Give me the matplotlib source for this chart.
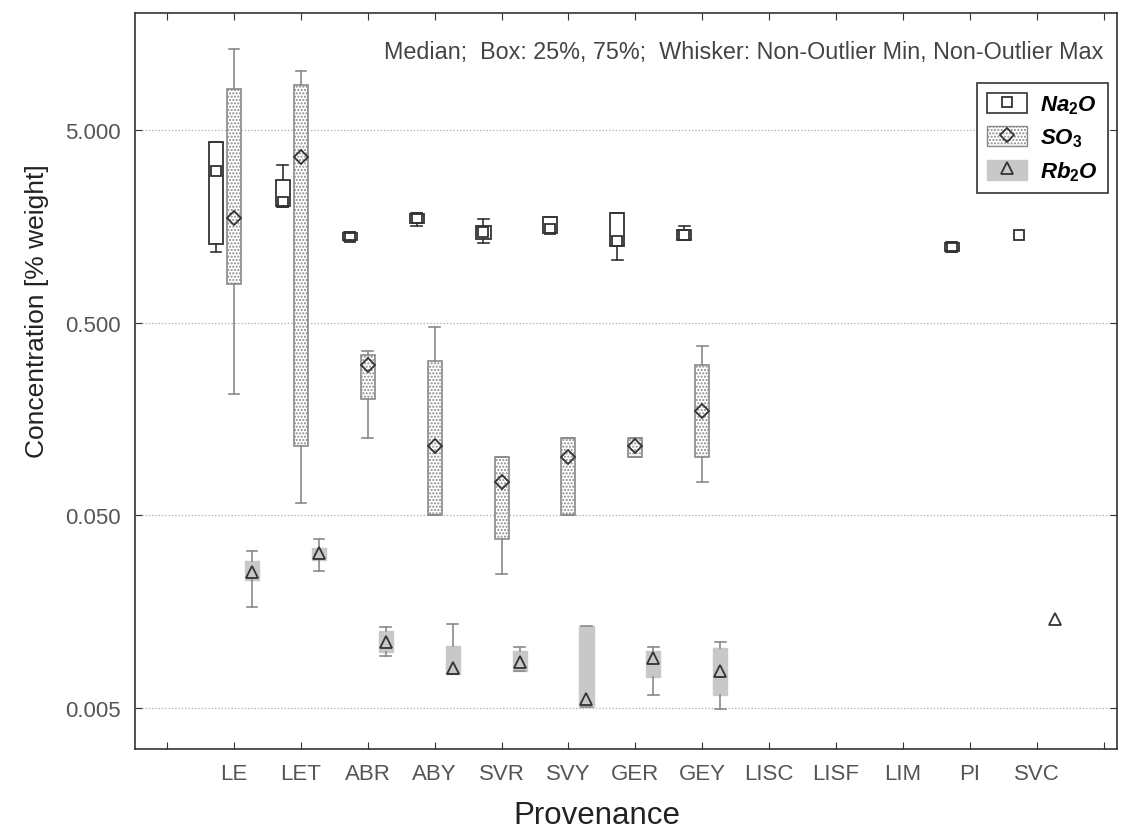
import numpy as np
import matplotlib.pyplot as plt
from matplotlib.patches import Patch
from matplotlib.lines import Line2D

plt.rcParams['font.family'] = ['Liberation Sans', 'DejaVu Sans']
plt.rcParams['mathtext.fontset'] = 'custom'
plt.rcParams['mathtext.it'] = 'Liberation Sans:italic:bold'
plt.rcParams['mathtext.rm'] = 'Liberation Sans:bold'

nan = np.nan

# categories
provenance = ['LE', 'LET', 'ABR', 'ABY', 'SVR', 'SVY', 'GER', 'GEY',
              'LISC', 'LISF', 'LIM', 'PI', 'SVC']

# Na2O: median, box 25/75 %, whiskers (non-outlier min / max)
na_med = [3.05, 2.10, 1.39, 1.735, 1.47, 1.53, 1.32, 1.42, nan, nan, nan, 1.24, 1.43]
na_q1 = [1.28, 2.02, 1.34, 1.65, 1.355, 1.46, 1.25, 1.34, nan, nan, nan, 1.17, 1.43]
na_q3 = [4.31, 2.76, 1.46, 1.82, 1.59, 1.77, 1.86, 1.51, nan, nan, nan, 1.30, 1.43]
na_lo = [1.165, 2.0, 1.33, 1.59, 1.29, 1.46, 1.06, 1.34, nan, nan, nan, 1.16, 1.43]
na_hi = [4.31, 3.27, 1.47, 1.86, 1.72, 1.77, 1.86, 1.58, nan, nan, nan, 1.31, 1.43]

# SO3
so_med = [1.755, 3.61, 0.303, 0.114, 0.0749, 0.1006, 0.114, 0.1746, nan, nan, nan, nan, nan]
so_q1 = [0.794, 0.115, 0.2015, 0.0505, 0.0378, 0.0505, 0.1006, 0.1006, nan, nan, nan, nan, nan]
so_q3 = [8.12, 8.55, 0.341, 0.315, 0.1006, 0.126, 0.126, 0.3024, nan, nan, nan, nan, nan]
so_lo = [0.214, 0.058, 0.126, 0.0505, 0.02495, 0.0505, 0.1006, 0.0749, nan, nan, nan, nan, nan]
so_hi = [13.1, 10.15, 0.355, 0.473, 0.1006, 0.126, 0.126, 0.378, nan, nan, nan, nan, nan]

# Rb2O
rb_med = [0.0254, 0.0319, 0.01097, 0.00804, 0.00864, 0.00557, 0.00906, 0.0078, nan, nan, nan, nan, 0.0145]
rb_q1 = [0.0232, 0.0295, 0.00974, 0.0075, 0.0078, 0.00504, 0.00727, 0.00584, nan, nan, nan, nan, 0.0145]
rb_q3 = [0.0291, 0.0338, 0.0126, 0.01054, 0.00985, 0.01338, 0.00993, 0.0102, nan, nan, nan, nan, 0.0145]
rb_lo = [0.01675, 0.0258, 0.00935, 0.0075, 0.0078, 0.00504, 0.00586, 0.00494, nan, nan, nan, nan, 0.0145]
rb_hi = [0.0328, 0.0378, 0.0131, 0.01365, 0.01033, 0.01338, 0.01033, 0.01105, nan, nan, nan, nan, 0.0145]

dark = '#333333'
grey = '#8a8a8a'
fill = '#c8c8c8'

fig = plt.figure(figsize=(11.21, 8.37), dpi=100)
ax = fig.add_axes([0.1204, 0.104, 0.876, 0.8793])

x = np.arange(1, len(provenance) + 1)


def draw_series(pos, med, q1, q3, lo, hi, boxprops, linecolor, marker, ms):
    stats, where = [], []
    for p, m, a, b, l, h in zip(pos, med, q1, q3, lo, hi):
        if np.isnan(m) or (a == b and l == h):
            continue
        stats.append(dict(med=m, q1=a, q3=b, whislo=l, whishi=h))
        where.append(p)
    ax.bxp(stats, positions=where, widths=0.21, capwidths=0.16,
           patch_artist=True, showfliers=False, boxprops=boxprops,
           whiskerprops=dict(color=linecolor, linewidth=1.2),
           capprops=dict(color=linecolor, linewidth=1.2),
           medianprops=dict(visible=False), manage_ticks=False, zorder=3)
    ax.plot(pos, med, linestyle='none', marker=marker, ms=ms, mfc='none',
            mec=dark, mew=1.3, zorder=5)


draw_series(x - 0.27, na_med, na_q1, na_q3, na_lo, na_hi,
            dict(facecolor='white', edgecolor=dark, linewidth=1.3), dark, 's', 6.5)
draw_series(x, so_med, so_q1, so_q3, so_lo, so_hi,
            dict(facecolor='white', edgecolor=grey, hatch='.....', linewidth=1.2), grey, 'D', 7.5)
draw_series(x + 0.27, rb_med, rb_q1, rb_q3, rb_lo, rb_hi,
            dict(facecolor=fill, edgecolor=fill, linewidth=1.0), grey, '^', 8)

ax.set_yscale('log')
ax.set_ylim(0.00307, 20.2)
ax.set_xlim(-0.48, 14.2)
ax.set_yticks([0.005, 0.05, 0.5, 5])
ax.set_yticklabels(['0.005', '0.050', '0.500', '5.000'])
ax.yaxis.set_minor_locator(plt.NullLocator())
ax.set_xticks(np.arange(0, 15))
ax.set_xticklabels([''] + provenance + [''])
ax.tick_params(direction='in', length=5, top=True, right=True,
               labelsize=16, labelcolor='#555555', color=dark, pad=10)
ax.grid(axis='y', which='major', linestyle=':', color='#aaaaaa', linewidth=0.9)
for s in ax.spines.values():
    s.set_color(dark)
    s.set_linewidth(1.2)

ax.set_ylabel('Concentration [% weight]', fontsize=19, color='#222222')
ax.yaxis.set_label_coords(-0.088, 0.596)
ax.set_xlabel('Provenance', fontsize=22.5, color='#222222')
ax.xaxis.set_label_coords(0.47, -0.07)

ax.text(0.986, 0.948, 'Median;  Box: 25%, 75%;  Whisker: Non-Outlier Min, Non-Outlier Max',
        transform=ax.transAxes, ha='right', va='center', fontsize=16.8, color='#444444')

handles = [
    (Patch(facecolor='white', edgecolor=dark, linewidth=1.2),
     Line2D([], [], ls='none', marker='s', ms=6.5, mfc='none', mec=dark, mew=1.3)),
    (Patch(facecolor='white', edgecolor=grey, hatch='.....', linewidth=1.0),
     Line2D([], [], ls='none', marker='D', ms=7.5, mfc='none', mec=dark, mew=1.3)),
    (Patch(facecolor=fill, edgecolor=fill),
     Line2D([], [], ls='none', marker='^', ms=8, mfc='none', mec=dark, mew=1.3)),
]
labels = [r'$\mathit{Na_2O}$', r'$\mathit{SO_3}$', r'$\mathit{Rb_2O}$']
leg = ax.legend(handles, labels, loc='upper right', bbox_to_anchor=(0.991, 0.905),
                borderaxespad=0, fontsize=16, handlelength=1.8, handleheight=1.0,
                handletextpad=0.6, borderpad=0.45,
                fancybox=False, framealpha=1, edgecolor=dark, labelspacing=0.45)
leg.get_frame().set_linewidth(1.2)

fig.savefig('out.png', dpi=100)
